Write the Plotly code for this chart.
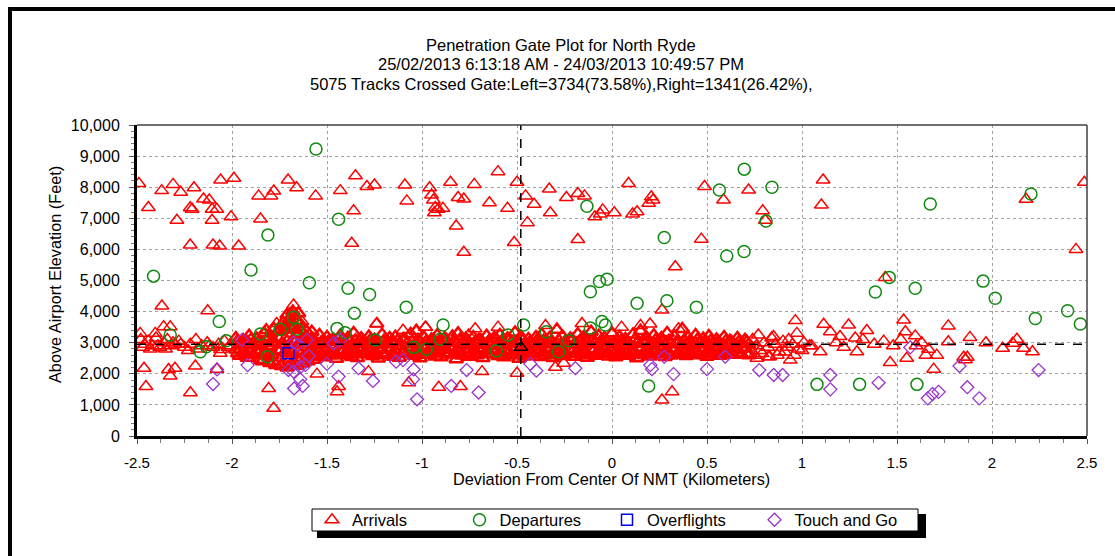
import plotly.graph_objects as go

# ---------------- Data ----------------
# Arrivals: scattered points outside the dense band
arr_x = [-2.49, -2.44, -2.37, -2.31, -2.27, -2.20, -2.29, -2.22, -2.21, -2.15, -2.12, -2.105, -2.08, -2.105,
         -2.06, -1.99, -2.005, -2.22, -2.10, -2.065, -1.965, -1.86, -1.795, -1.78, -1.85, -1.705, -1.66, -1.56,
         -1.43, -1.35, -1.36, -1.37, -1.29, -1.25, -1.09, -1.08, -0.96, -0.95, -0.94, -0.93, -0.935, -0.915,
         -0.89, -0.85, -0.81, -0.78, -0.82, -0.78, -0.725, -0.645, -0.60, -0.55, -0.50, -0.515, -0.455, -0.41,
         -0.445, -0.33, -0.325, -0.24, -0.18, -0.145, -0.18, -0.09,
         0.087, -0.062, -0.049, 0.012, 0.108, 0.132, 0.193, 0.207, 0.216, 0.333, 0.47, 0.487, 0.587, 0.719,
         0.793, 0.807, 1.111, 1.102, 1.438, 2.179, 2.442, 2.486,
         0.263, 0.316, 0.263, 0.965, 0.973, 1.114, 1.149, 1.245, 1.341, 1.535, 1.544, 1.596, 1.464, 1.77,
         1.77, 1.884, 1.968, 2.056, 2.109, 2.131, 2.166, 2.213, 1.551, 1.652, 1.709, 1.693, 1.851, 1.87,
         1.86, 1.666, 1.289, 1.096, 0.938, 0.763, 0.824,
         1.05, 1.18, 1.22, 1.32, 1.38, 1.43, 1.48, 1.52, 1.60, 1.63, 1.20, 1.28,
         -2.369, -2.128, -2.463, -2.453, -2.334, -2.30, -2.325, -2.193, -2.219, -2.079, -2.062, -1.807,
         -1.781, -1.676, -1.676, -1.632, -1.765, -1.447, -1.439, -1.237, -1.282, -0.912, -0.798, -0.684,
         -1.07, -0.983, -0.755, -0.50, -1.553, -2.404, -2.36, -2.325, -2.483, -0.158, -0.298, -0.254]
arr_y = [8120, 7350, 7890, 8090, 7840, 7980, 6940, 7340, 7290, 7620, 7590, 7290, 7290, 6940,
         8230, 8290, 7050, 6140, 6140, 6110, 6110, 7720, 7720, 7880, 6980, 8230, 7980, 7720,
         7890, 8370, 7240, 6200, 8020, 8070, 8070, 7560, 7980, 7750, 7590, 7350, 7180, 7290,
         7320, 8160, 7670, 7620, 6750, 5910, 8090, 7500, 8500, 7320, 8160, 6220, 7720, 7450,
         6860, 7940, 7180, 7670, 7800, 7720, 6320, 7050,
         8120, 7140, 7270, 7180, 7140, 7210, 7480, 7690, 7590, 5440, 6330, 8020, 7590, 7910,
         7240, 6940, 8230, 7430, 5100, 7610, 6000, 8160,
         4050, 1420, 1160, 3710, 3300, 3590, 3350, 3570, 3390, 3730, 3350, 3220, 2360, 3540,
         3030, 3170, 3000, 2820, 2980, 3110, 2820, 2710, 2500, 2600, 2600, 2150, 2530, 2530,
         2450, 2790, 2710, 2710, 2440, 2500, 2550,
         2900, 3000, 2850, 3100, 2950, 3050, 2900, 3100, 2900, 3000, 3200, 3150,
         4180, 4030, 2180, 1590, 2140, 2180, 1930, 2250, 1390, 2150, 2660, 1530,
         890, 4210, 3950, 3680, 3620, 1420, 1590, 3620, 2070, 1570, 1590, 2070,
         1710, 3500, 3250, 2020, 1990, 3300, 3510, 3510, 3300, 3620, 2210, 2340]

# Arrivals: the dense band around the gate altitude
band_x1 = [-1.98, -1.94, -1.91, -1.87, -1.83, -1.80, -1.76, -1.72, -1.69, -1.65, -1.61, -1.58, -1.54, -1.50,
           -1.47, -1.43, -1.39, -1.36, -1.32, -1.28, -1.25, -1.21, -1.17, -1.14, -1.10, -1.06, -1.03, -0.99,
           -0.95, -0.92, -0.88, -0.84, -0.81, -0.77, -0.73, -0.70, -0.66, -0.62, -0.59, -0.55, -0.51, -0.48,
           -0.44, -0.40, -0.37, -0.33, -0.29, -0.26, -0.22, -0.18, -0.15, -0.11, -0.07, -0.04, 0.00, 0.04,
           0.07, 0.11, 0.15, 0.18, 0.22, 0.26, 0.29, 0.33, 0.37, 0.40, 0.44, 0.48, 0.51, 0.55, 0.59, 0.62,
           0.66, 0.70]
band_x2 = [-1.96, -1.92, -1.89, -1.85, -1.81, -1.78, -1.74, -1.70, -1.67, -1.63, -1.59, -1.56, -1.52, -1.48,
           -1.45, -1.41, -1.37, -1.34, -1.30, -1.26, -1.23, -1.19, -1.15, -1.12, -1.08, -1.04, -1.01, -0.97,
           -0.93, -0.90, -0.86, -0.82, -0.79, -0.75, -0.71, -0.68, -0.64, -0.60, -0.57, -0.53, -0.49, -0.46,
           -0.42, -0.38, -0.35, -0.31, -0.27, -0.24, -0.20, -0.16, -0.13, -0.09, -0.05, -0.02, 0.02, 0.06,
           0.09, 0.13, 0.17, 0.20, 0.24, 0.28, 0.31, 0.35, 0.39, 0.42, 0.46, 0.50, 0.53, 0.57, 0.61, 0.64,
           0.68, 0.72]
band_x3 = [-1.97, -1.93, -1.90, -1.86, -1.82, -1.79, -1.75, -1.71, -1.68, -1.64, -1.60, -1.57, -1.53, -1.49,
           -1.46, -1.42, -1.38, -1.35, -1.31, -1.27, -1.24, -1.20, -1.16, -1.13, -1.09, -1.05, -1.02, -0.98,
           -0.94, -0.91, -0.87, -0.83, -0.80, -0.76, -0.72, -0.69, -0.65, -0.61, -0.58, -0.54, -0.50, -0.47,
           -0.43, -0.39, -0.36, -0.32, -0.28, -0.25, -0.21, -0.17, -0.14, -0.10, -0.06, -0.03, 0.01, 0.05,
           0.08, 0.12, 0.16, 0.19, 0.23, 0.27, 0.30, 0.34, 0.38, 0.41, 0.45, 0.49, 0.52, 0.56, 0.60, 0.63,
           0.67, 0.71]
band_ya = [3150, 3080, 3220, 3130, 3300, 3180, 3350, 3420, 3500, 3280, 3200, 3120, 3250, 3180, 3100, 3230,
           3160, 3310, 3140, 3200, 3090, 3260, 3150, 3190, 3120, 3280, 3380, 3170, 3110, 3240, 3150, 3200,
           3300, 3130, 3180, 3090, 3220, 3160, 3250, 3140, 3330, 3200, 3120, 3180, 3260, 3150, 3420, 3200,
           3130, 3280, 3170, 3350, 3220, 3150, 3300, 3190, 3120, 3260, 3380, 3180, 3240, 3150, 3310, 3200,
           3440, 3170, 3250, 3130, 3210, 3100, 3180, 3060, 3150, 3090]
band_yb = [2950, 3010, 2920, 2980, 2900, 3040, 2960, 2890, 3000, 2940, 3020, 2910, 2970, 3030, 2930, 2990,
           2880, 2960, 3010, 2920, 2980, 2940, 3020, 2900, 2970, 2950, 3030, 2910, 2990, 2940, 2880, 3000,
           2960, 2920, 3040, 2950, 2900, 2990, 2930, 3010, 2960, 2890, 2970, 3020, 2940, 2980, 2910, 3000,
           2950, 2930, 3020, 2960, 2890, 2990, 2940, 3010, 2920, 2970, 3030, 2950, 2900, 2990, 2940, 3010,
           2960, 2920, 2980, 2940, 3000, 2910, 2960, 2930, 2990, 2950]
band_yc = [2780, 2720, 2810, 2750, 2690, 2830, 2760, 2700, 2800, 2740, 2850, 2710, 2780, 2730, 2820, 2760,
           2700, 2790, 2740, 2810, 2720, 2770, 2830, 2750, 2700, 2790, 2740, 2810, 2760, 2720, 2840, 2770,
           2710, 2790, 2750, 2820, 2730, 2780, 2700, 2760, 2810, 2740, 2790, 2720, 2770, 2830, 2750, 2710,
           2800, 2760, 2730, 2790, 2740, 2820, 2770, 2710, 2780, 2750, 2810, 2730, 2790, 2760, 2720, 2800,
           2750, 2780, 2730, 2810, 2760, 2800, 2740, 2790, 2770, 2820]
band_yd = [2580, 2520, 2610, 2450, 2560, 2380, 2300, 2420, 2350, 2500, 2550, 2620, 2530, 2590, 2480, 2600,
           2540, 2510, 2630, 2570, 2490, 2600, 2550, 2520, 2640, 2580, 2500, 2610, 2560, 2530, 2620, 2470,
           2590, 2550, 2600, 2510, 2640, 2570, 2530, 2600, 2480, 2560, 2620, 2540, 2590, 2510, 2570, 2630,
           2550, 2600, 2520, 2580, 2640, 2560, 2530, 2610, 2580, 2500, 2600, 2560, 2630, 2540, 2590, 2610,
           2570, 2640, 2600, 2550, 2620, 2580, 2650, 2610, 2630, 2600]
band_ye = [3060, 3020, 3100, 3040, 3080, 3000, 3120, 3050, 3090, 3030, 3070, 3110, 3010, 3060, 3040, 3090,
           3020, 3080, 3050, 3100, 3030, 3070, 3010, 3060, 3110, 3040, 3080, 3020, 3090, 3050, 3070, 3030,
           3100, 3060, 3010, 3080, 3040, 3120, 3050, 3090, 3020, 3070, 3040, 3100, 3060, 3030, 3080, 3010,
           3090, 3050, 3070, 3110, 3040, 3060, 3020, 3080, 3050, 3100, 3030, 3070, 3090, 3040, 3060, 3020,
           3080, 3050, 3100, 3030, 3070, 3040, 3060, 3020, 3050, 3030]
band_yf = [2660, 2620, 2700, 2640, 2680, 2600, 2720, 2650, 2690, 2630, 2670, 2710, 2610, 2660, 2640, 2690,
           2620, 2680, 2650, 2700, 2630, 2670, 2610, 2660, 2710, 2640, 2680, 2620, 2690, 2650, 2670, 2630,
           2700, 2660, 2610, 2680, 2640, 2720, 2650, 2690, 2620, 2670, 2640, 2700, 2660, 2630, 2680, 2610,
           2690, 2650, 2670, 2710, 2640, 2660, 2620, 2680, 2650, 2700, 2630, 2670, 2690, 2640, 2660, 2620,
           2680, 2650, 2700, 2630, 2670, 2640, 2660, 2620, 2650, 2630]
thick_x = [-1.84, -1.80, -1.77, -1.74, -1.71, -1.69, -1.66, -1.63, -1.60, -1.57, -1.82, -1.78, -1.75, -1.72,
           -1.70, -1.67, -1.64, -1.61, -1.58, -1.73, -1.70, -1.68, -1.66, -1.64, -1.71, -1.68, -1.65]
thick_y = [2400, 2350, 2280, 2250, 2200, 2300, 2260, 2330, 2400, 2450, 3400, 3450, 3380, 3500, 3550, 3480,
           3420, 3380, 3350, 3650, 3750, 3850, 3700, 3600, 3900, 4000, 3950]
left_x = [-2.48, -2.46, -2.44, -2.42, -2.40, -2.38, -2.36, -2.34, -2.32, -2.30, -2.28, -2.25, -2.22, -2.19,
          -2.16, -2.13, -2.10, -2.07, -2.04, -2.01, -2.47, -2.43, -2.39, -2.35, -2.31, -2.27, -2.23, -2.18,
          -2.12, -2.06, -2.02]
left_y = [3100, 2950, 3050, 2900, 3150, 2850, 3000, 3100, 2900, 2950, 3050, 2850, 2950, 3100, 2900, 3000,
          2850, 2950, 3050, 2900, 2850, 2800, 2900, 2800, 3000, 2950, 2750, 2800, 2900, 2780, 2850]
right_x = [0.74, 0.76, 0.78, 0.80, 0.82, 0.84, 0.86, 0.88, 0.90, 0.92, 0.95, 0.98, 1.01, 1.04, 0.75, 0.79,
           0.83, 0.87, 0.91, 0.96, 1.00, 0.77, 0.85, 0.93]
right_y = [3100, 2900, 2750, 3000, 2850, 3150, 2950, 2700, 3050, 2850, 2950, 2800, 3000, 2900, 2600, 2650,
           2550, 2600, 2700, 2600, 2750, 3250, 3200, 3100]
spike_x = [-1.24, -0.98, -0.72, -0.35, 0.05, 0.20, 0.35, -1.10, -0.60, 0.15]
spike_y = [3600, 3500, 3450, 3550, 3500, 3600, 3450, 3400, 3500, 3550]

# Departures
dep_x = [-1.558, -1.439, -1.811, -1.90, -2.413, -1.593, -1.389, -1.276, -0.132, -0.114, -0.066, -0.026,
         0.696, 0.565, 0.842, 0.811, 0.275, 0.604, 0.695, 0.132, 0.289, 0.444, 1.459, 1.386, 1.596, 1.675,
         1.953, 2.017, 2.205, 2.228, 2.398, 2.465, -0.053, -0.035, -0.114, 0.193, 1.079, 1.303, 1.605,
         -2.325, -2.067, -2.167, -2.135, -2.03, -1.851, -1.746, -1.676, -1.658, -1.814, -1.356, -1.083,
         -1.447, -1.404, -1.246, -1.044, -0.977, -0.889, -0.904, -0.609, -0.547, -0.465, -0.346, -0.281,
         -0.228]
dep_y = [9230, 6970, 6460, 5340, 5140, 4930, 4750, 4550, 7390, 4640, 4970, 5040,
         8580, 7910, 8000, 6910, 6380, 5790, 5930, 4270, 4350, 4140, 5100, 4630, 4750, 7460,
         4980, 4430, 7780, 3780, 4030, 3600, 3680, 3570, 3470, 1610, 1660, 1660, 1660,
         3250, 3680, 2710, 2870, 3060, 3280, 3430, 3820, 3430, 2550, 3950, 4140,
         3460, 3320, 3090, 2850, 2790, 3570, 3110, 2740, 3250, 3570, 3350, 2710,
         3060]

# Overflights
ovf_x = [-1.703]
ovf_y = [2660]

# Touch and Go
tng_x = [-1.947, -1.918, -2.079, -2.10, -1.676, -1.655, -1.605, -1.596, -1.614, -1.641, -1.703, -1.676,
         -1.673, -1.628, -1.641, -1.50, -1.439, -1.465, -1.43, -1.334, -1.258, -1.136, -1.10, -1.044,
         -1.047, -1.026, -0.846, -0.702, -0.765, -0.43, -0.398, -0.193,
         0.202, 0.21, 0.275, 0.324, 0.50, 0.596, 0.775, 0.851, 0.898, 1.149, 1.149, 1.403, 1.57, 1.662,
         1.687, 1.719, 1.829, 1.87, 1.933, 2.245]
tng_y = [3090, 2280, 2140, 1670, 3000, 2930, 3090, 2570, 2280, 2210, 2120, 2070,
         1530, 1610, 1820, 2320, 1910, 2980, 3090, 2180, 1770, 2390, 2440, 2140,
         1820, 1180, 1610, 1400, 2120, 2320, 2100, 2180,
         2280, 2150, 2550, 1990, 2150, 2550, 2120, 1960, 1960, 1960, 1500, 1710, 2850, 1210,
         1350, 1420, 2250, 1570, 1210, 2120]

# Gate centre reference
center_x = [-0.48]
center_y = [2850]
gate_alt = 2950
gate_dev = -0.48

x_tickvals = [-2.5, -2, -1.5, -1, -0.5, 0, 0.5, 1, 1.5, 2, 2.5]
x_ticktext = ["-2.5", "-2", "-1.5", "-1", "-0.5", "0", "0.5", "1", "1.5", "2", "2.5"]

title_lines = ["Penetration Gate Plot for North Ryde",
               "25/02/2013 6:13:18 AM - 24/03/2013 10:49:57 PM",
               "5075 Tracks Crossed Gate:Left=3734(73.58%),Right=1341(26.42%),"]

# ---------------- Figure ----------------
W, H = 1115, 556
ML, MR, MT, MB = 137, 28, 125, 120
PW, PH = W - ML - MR, H - MT - MB


def pxx(p):
    return (p - ML) / PW


def pxy(p):
    return (H - MB - p) / PH


FONT = "Arial, Liberation Sans, sans-serif"
RED, GREEN, BLUE, PURPLE = "#ff0000", "#108a10", "#0000ff", "#9932cc"

sparse_x = arr_x + left_x + right_x + spike_x
sparse_y = arr_y + left_y + right_y + spike_y
dense_x = band_x1 + band_x2 + band_x1 + band_x2 + band_x3 + band_x3 + thick_x
dense_y = band_ya + band_yb + band_yc + band_yd + band_ye + band_yf + thick_y

fig = go.Figure()
fig.add_trace(go.Scatter(x=dense_x, y=dense_y, mode="markers", name="Arrivals", legendgroup="arr",
                         showlegend=False, hoverinfo="skip",
                         marker=dict(symbol="triangle-up-open", size=12, color=RED,
                                     line=dict(width=2.5, color=RED))))
fig.add_trace(go.Scatter(x=sparse_x, y=sparse_y, mode="markers", name="Arrivals", legendgroup="arr",
                         marker=dict(symbol="triangle-up-open", size=12, color=RED,
                                     line=dict(width=1.5, color=RED))))
fig.add_trace(go.Scatter(x=dep_x, y=dep_y, mode="markers", name="Departures",
                         marker=dict(symbol="circle-open", size=12, color=GREEN,
                                     line=dict(width=1.5, color=GREEN))))
fig.add_trace(go.Scatter(x=ovf_x, y=ovf_y, mode="markers", name="Overflights",
                         marker=dict(symbol="square-open", size=11, color=BLUE,
                                     line=dict(width=1.5, color=BLUE))))
fig.add_trace(go.Scatter(x=tng_x, y=tng_y, mode="markers", name="Touch and Go",
                         marker=dict(symbol="diamond-open", size=10, color=PURPLE,
                                     line=dict(width=1.3, color=PURPLE))))
fig.add_trace(go.Scatter(x=center_x, y=center_y, mode="markers", showlegend=False, hoverinfo="skip",
                         marker=dict(symbol="triangle-up-open", size=12, color="#000000",
                                     line=dict(width=1.5, color="#000000"))))

shapes = [
    # dashed gate reference lines
    dict(type="line", xref="x", yref="y", x0=-2.5, x1=2.5, y0=gate_alt, y1=gate_alt,
         line=dict(color="black", width=1.5, dash="dash"), layer="above"),
    dict(type="line", xref="x", yref="y", x0=gate_dev, x1=gate_dev, y0=0, y1=10000,
         line=dict(color="black", width=1.5, dash="dash"), layer="above"),
    # top/right plot border
    dict(type="line", xref="paper", yref="paper", x0=0, x1=1, y0=1, y1=1,
         line=dict(color="#404040", width=1.5), layer="above"),
    dict(type="line", xref="paper", yref="paper", x0=1, x1=1, y0=0, y1=1,
         line=dict(color="#404040", width=1.5), layer="above"),
    # outer frame (top and left)
    dict(type="line", xref="paper", yref="paper", x0=pxx(8), x1=pxx(1115), y0=pxy(9), y1=pxy(9),
         line=dict(color="black", width=4), layer="above"),
    dict(type="line", xref="paper", yref="paper", x0=pxx(10), x1=pxx(10), y0=pxy(7), y1=pxy(556),
         line=dict(color="black", width=4), layer="above"),
    # legend drop shadow and box
    dict(type="rect", xref="paper", yref="paper", x0=pxx(317), x1=pxx(926), y0=pxy(514), y1=pxy(538),
         fillcolor="black", line=dict(width=0), layer="below"),
    dict(type="rect", xref="paper", yref="paper", x0=pxx(312), x1=pxx(918), y0=pxy(509), y1=pxy(531),
         fillcolor="white", line=dict(color="black", width=1), layer="below"),
]

annotations = []
for txt, yp in zip(title_lines, [45, 64, 84]):
    annotations.append(dict(text=txt, xref="paper", yref="paper", x=pxx(561), y=pxy(yp),
                            xanchor="center", yanchor="middle", showarrow=False,
                            font=dict(family=FONT, size=16.5, color="black")))
annotations.append(dict(text="Deviation From Center Of NMT (Kilometers)", xref="paper", yref="paper",
                        x=pxx(611), y=pxy(479), xanchor="center", yanchor="middle", showarrow=False,
                        font=dict(family=FONT, size=16.3, color="black")))
annotations.append(dict(text="Above Airport Elevation (Feet)", xref="paper", yref="paper",
                        x=pxx(55), y=pxy(275), xanchor="center", yanchor="middle", showarrow=False,
                        textangle=-90, font=dict(family=FONT, size=16.3, color="black")))

fig.update_layout(
    width=W, height=H,
    margin=dict(l=ML, r=MR, t=MT, b=MB, pad=0),
    paper_bgcolor="white", plot_bgcolor="white",
    font=dict(family=FONT, size=15, color="black"),
    showlegend=True,
    legend=dict(orientation="h", x=pxx(312), y=pxy(520), xanchor="left", yanchor="middle",
                bgcolor="rgba(0,0,0,0)", borderwidth=0,
                font=dict(family=FONT, size=16.5, color="black"),
                entrywidth=102.5, entrywidthmode="pixels", itemclick=False),
    shapes=shapes,
    annotations=annotations,
    xaxis=dict(range=[-2.5, 2.5], tickmode="array", tickvals=x_tickvals, ticktext=x_ticktext,
               ticks="outside", ticklen=5, tickcolor="#555", tickwidth=1,
               minor=dict(tickmode="linear", tick0=-2.5, dtick=0.125, ticks="outside", ticklen=4,
                          tickcolor="#777", showgrid=False),
               showgrid=True, gridcolor="#a0a0a0", griddash="dot", gridwidth=1,
               showline=True, linecolor="black", linewidth=3, zeroline=False,
               tickfont=dict(family=FONT, size=15, color="black"), ticklabelstandoff=6),
    yaxis=dict(range=[0, 10000], tickmode="linear", tick0=0, dtick=1000, tickformat=",",
               ticks="outside", ticklen=5, tickcolor="#555", tickwidth=1,
               minor=dict(tickmode="linear", tick0=0, dtick=200, ticks="outside", ticklen=3,
                          tickcolor="#777", showgrid=False),
               showgrid=True, gridcolor="#a0a0a0", griddash="dot", gridwidth=1,
               showline=True, linecolor="black", linewidth=3, zeroline=False,
               tickfont=dict(family=FONT, size=16, color="black"), ticklabelstandoff=6),
)

fig.write_html("out.html")
